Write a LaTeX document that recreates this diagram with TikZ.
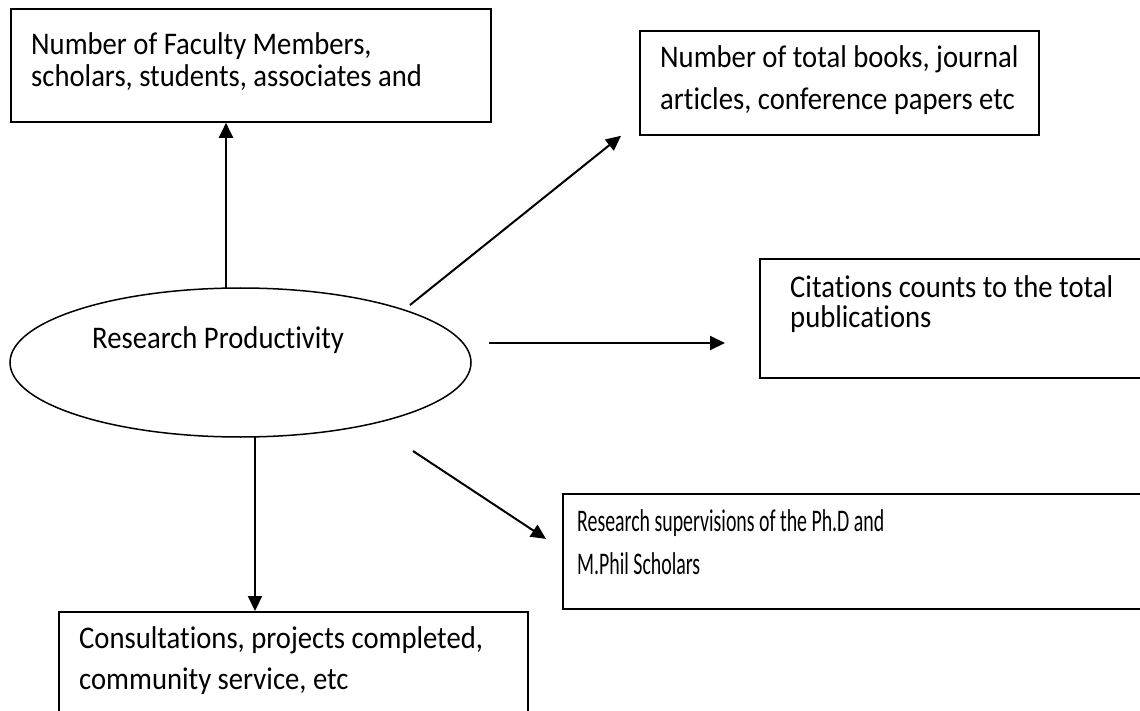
\documentclass[tikz,border=0pt]{standalone}
\usepackage{fontspec}
\newfontfamily\boxfont[FakeStretch=0.91,Ligatures=NoCommon]{Carlito}
\newfontfamily\narrowfont[FakeStretch=0.63,Ligatures=NoCommon]{Carlito}
\usetikzlibrary{arrows.meta,shapes.geometric}
\tikzset{
 box/.style={draw, line width=1.8pt, rectangle, inner sep=0pt, anchor=north west},
 txt/.style={anchor=base west, inner sep=0pt, font=\boxfont\fontsize{31.5}{34}\selectfont},
 ntxt/.style={anchor=base west, inner sep=0pt, font=\narrowfont\fontsize{31.5}{34}\selectfont},
 arr/.style={line width=2pt, -{Triangle[length=15pt,width=14pt]}},
}
\begin{document}
\begin{tikzpicture}[x=1pt,y=-1pt]
\useasboundingbox (0,0) rectangle (1140,711);
\clip (0,0) rectangle (1140,711);
\fill[white] (0,0) rectangle (1140,711);
% boxes
\node[box, minimum width=480pt, minimum height=113pt] (A) at (10,8) {};
\node[box, minimum width=399pt, minimum height=104pt] (B) at (639,30) {};
\node[box, minimum width=450pt, minimum height=119pt] (C) at (759,258) {};
\node[box, minimum width=650pt, minimum height=115pt] (D) at (562,493) {};
\node[box, minimum width=469pt, minimum height=150pt] (F) at (58,611) {};
\node[draw, ellipse, line width=1.5pt, minimum width=461pt, minimum height=149pt, inner sep=0pt] (E) at (240.5,362.5) {};
% texts
\node[txt] (a1) at (31,55) {Number of Faculty Members,};
\node[txt] (a2) at (31,87) {scholars, students, associates and};
\node[txt] (b1) at (660,68) {Number of total books, journal};
\node[txt] (b2) at (660,110) {articles, conference papers etc};
\node[txt] (c1) at (790,298) {Citations counts to the total};
\node[txt] (c2) at (790,327) {publications};
\node[ntxt] (d1) at (577,531) {Research supervisions of the Ph.D and};
\node[ntxt] (d2) at (577,574) {M.Phil Scholars};
\node[txt] (f1) at (79,648) {Consultations, projects completed,};
\node[txt] (f2) at (79,689) {community service, etc};
\node[txt] (e1) at (92,348) {Research Productivity};
% connectors
\coordinate (u0) at (226,288);
\draw[arr] (u0) -- (u0 |- A.south);
\coordinate (d0) at (255,437);
\draw[arr] (d0) -- (d0 |- F.north);
\coordinate (r0) at (410,305);
\draw[arr] (r0) -- ([xshift=-18pt]B.south west);
\coordinate (h0) at (489,343);
\draw[arr] (h0) -- ([xshift=-34pt]C.west |- h0);
\coordinate (s0) at (413,451);
\draw[arr] (s0) -- ([xshift=-16pt,yshift=12.5pt]D.west);
\end{tikzpicture}
\end{document}
